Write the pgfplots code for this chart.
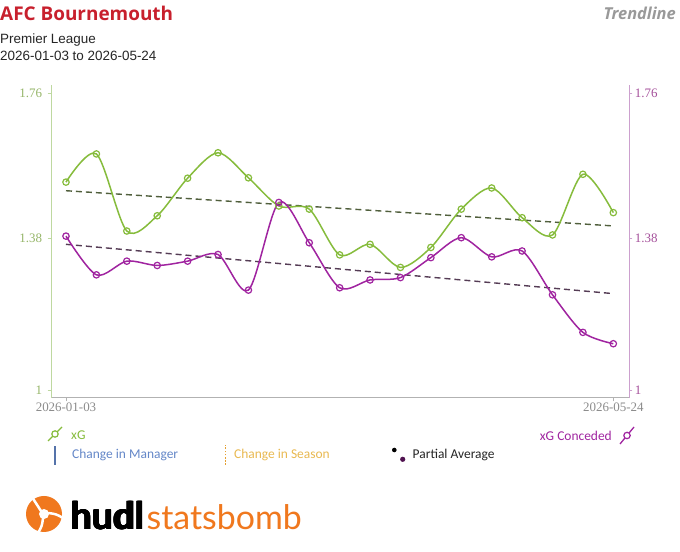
\documentclass[border=0pt]{standalone}
\usepackage{fontspec}
\setmainfont{Liberation Serif}
\newfontfamily\tickserif{Liberation Serif}
\newfontfamily\osans{Open Sans}
\newfontfamily\lsans{Liberation Sans}
\newfontfamily\carlito{Carlito}
\newfontfamily\logofont{Lato}
\usepackage{pgfplots}
\pgfplotsset{compat=1.18}
\definecolor{xgc}{RGB}{134,188,60}
\definecolor{xgac}{RGB}{160,36,160}
\definecolor{laxis}{RGB}{190,216,160}
\definecolor{raxis}{RGB}{204,160,206}
\definecolor{ltick}{RGB}{150,182,105}
\definecolor{rtick}{RGB}{165,80,155}
\definecolor{titlered}{RGB}{200,32,45}
\definecolor{trendg}{RGB}{80,95,60}
\definecolor{trendm}{RGB}{85,60,85}
\definecolor{mgrblue}{RGB}{100,135,200}
\definecolor{seasonorange}{RGB}{233,185,80}
\definecolor{seasonline}{RGB}{228,160,50}
\definecolor{sborange}{RGB}{240,120,30}
\begin{document}
\begin{tikzpicture}[x=1bp,y=1bp]
\path[fill=white] (0,0) rectangle (680,552);
% titles
\node[anchor=base west,inner sep=0,text=titlered,font=\osans\bfseries\fontsize{19}{22}\selectfont] at (0,531) {AFC Bournemouth};
\node[anchor=base west,inner sep=0,text=black!85,font=\lsans\fontsize{13.5}{16}\selectfont] at (0,508) {Premier League};
\node[anchor=base west,inner sep=0,text=black!85,font=\lsans\fontsize{13.5}{16}\selectfont] at (0,491) {2026-01-03 to 2026-05-24};
\node[anchor=base east,inner sep=0,text=black!40,font=\osans\bfseries\itshape\fontsize{16.5}{20}\selectfont] at (676,532) {Trendline};

\begin{axis}[
  at={(51bp,154bp)}, anchor=south west,
  scale only axis, width=578.3bp, height=313bp,
  xmin=-0.493, xmax=18.526, ymin=0.9813, ymax=1.7812,
  axis y line*=left, axis x line*=bottom,
  y axis line style={laxis, line width=1bp, -},
  x axis line style={black!30, line width=1bp, -},
  xtick={0,18}, xticklabels={2026-01-03,2026-05-24},
  ytick={1,1.3895,1.76}, yticklabels={1,1.38,1.76},
  tick align=outside, major tick length=3.5bp,
  ytick style={laxis, line width=0.8bp},
  xtick style={black!30, line width=0.8bp},
  yticklabel style={text=ltick, font=\tickserif\fontsize{13}{15}\selectfont, xshift=-2bp},
  xticklabel style={text=black!45, font=\tickserif\fontsize{13}{15}\selectfont, yshift=2bp},
  /pgf/number format/assume math mode=true,
  clip=false,
]
\addplot[trendg, line width=1.4bp, dash pattern=on 6bp off 4bp] coordinates {(0,1.511) (18,1.421)};
\addplot[trendm, line width=1.4bp, dash pattern=on 6bp off 4bp] coordinates {(0,1.374) (18,1.248)};
\addplot[xgc, line width=1.5bp, smooth, tension=0.5, mark=o, mark size=3.2bp, mark options={fill=white, line width=1.2bp, solid}] coordinates {
(0,1.533) (1,1.605) (2,1.408) (3,1.447) (4,1.543) (5,1.608) (6,1.544) (7,1.472) (8,1.464) (9,1.347)
(10,1.374) (11,1.315) (12,1.366) (13,1.464) (14,1.518) (15,1.442) (16,1.398) (17,1.553) (18,1.455)};
\addplot[xgac, line width=1.5bp, smooth, tension=0.5, mark=o, mark size=3.2bp, mark options={fill=white, line width=1.2bp, solid}] coordinates {
(0,1.395) (1,1.296) (2,1.331) (3,1.320) (4,1.331) (5,1.348) (6,1.257) (7,1.481) (8,1.378) (9,1.263)
(10,1.283) (11,1.289) (12,1.340) (13,1.391) (14,1.342) (15,1.357) (16,1.245) (17,1.149) (18,1.120)};
\end{axis}

\begin{axis}[
  at={(51bp,154bp)}, anchor=south west,
  scale only axis, width=578.3bp, height=313bp,
  xmin=-0.493, xmax=18.526, ymin=0.9813, ymax=1.7812,
  axis y line*=right, axis x line=none,
  y axis line style={raxis, line width=1bp, -},
  ytick={1,1.3895,1.76}, yticklabels={1,1.38,1.76},
  tick align=outside, major tick length=3bp,
  ytick style={raxis, line width=0.8bp},
  yticklabel style={text=rtick, font=\tickserif\fontsize{13}{15}\selectfont, xshift=-1bp},
  /pgf/number format/assume math mode=true,
]
\addplot[draw=none] coordinates {(0,1.2)};
\end{axis}

% legend
\draw[xgc, line width=1.3bp] (48,111) -- (62,125);
\draw[xgc, line width=1.2bp, fill=white] (55,118) circle (3.2);
\node[anchor=west,inner sep=0,text=xgc,font=\carlito\fontsize{13.5}{16}\selectfont] at (71,117) {xG};
\node[anchor=east,inner sep=0,text=xgac,font=\carlito\fontsize{13.5}{16}\selectfont] at (612,116) {xG Conceded};
\draw[xgac, line width=1.3bp] (620,108) -- (634,125);
\draw[xgac, line width=1.2bp, fill=white] (627,116.5) circle (3.2);

\draw[mgrblue!85!black, line width=1.2bp] (55,87) -- (55,106);
\node[anchor=west,inner sep=0,text=mgrblue,font=\carlito\fontsize{13.5}{16}\selectfont] at (72,97) {Change in Manager};
\draw[seasonline, line width=1.6bp, dash pattern=on 1.6bp off 1.6bp] (225.5,87) -- (225.5,107);
\node[anchor=west,inner sep=0,text=seasonorange,font=\carlito\fontsize{13.5}{16}\selectfont] at (234,97) {Change in Season};
\fill[black] (394.3,102) circle (2.3);
\fill[xgac!50!black] (402.7,92.7) circle (2.6);
\node[anchor=west,inner sep=0,text=black!85,font=\carlito\fontsize{13.5}{16}\selectfont] at (412.5,97) {Partial Average};

% logo
\begin{scope}[shift={(44,38)}]
\fill[sborange] (0,0) circle (18);
\draw[white, line width=2.5bp] (-3,3) .. controls (-8,10) .. (-12,17);
\draw[white, line width=2.5bp] (4,1) .. controls (12,0) .. (19,-4);
\draw[white, line width=2.5bp] (-1,-4) .. controls (-2,-12) .. (-6,-19);
\fill[white] (0,0) circle (5);
\end{scope}
\foreach \dx/\dy in {0/0,0.7/0,1.4/0,0/0.5,0.7/0.5,1.4/0.5}{
  \node[anchor=base west,inner sep=0,text=black,font=\logofont\bfseries\fontsize{38}{42}\selectfont] at (70+\dx,22+\dy) {hudl};
}
\node[anchor=base west,inner sep=0,text=black,font=\logofont\bfseries\fontsize{38}{42}\selectfont] (hudl) at (71.4,22) {hudl};
\node[anchor=base west,inner sep=0,text=sborange,font=\logofont\fontsize{34}{40}\selectfont] at ([xshift=1bp]hudl.base east) {statsbomb};
\end{tikzpicture}
\end{document}
